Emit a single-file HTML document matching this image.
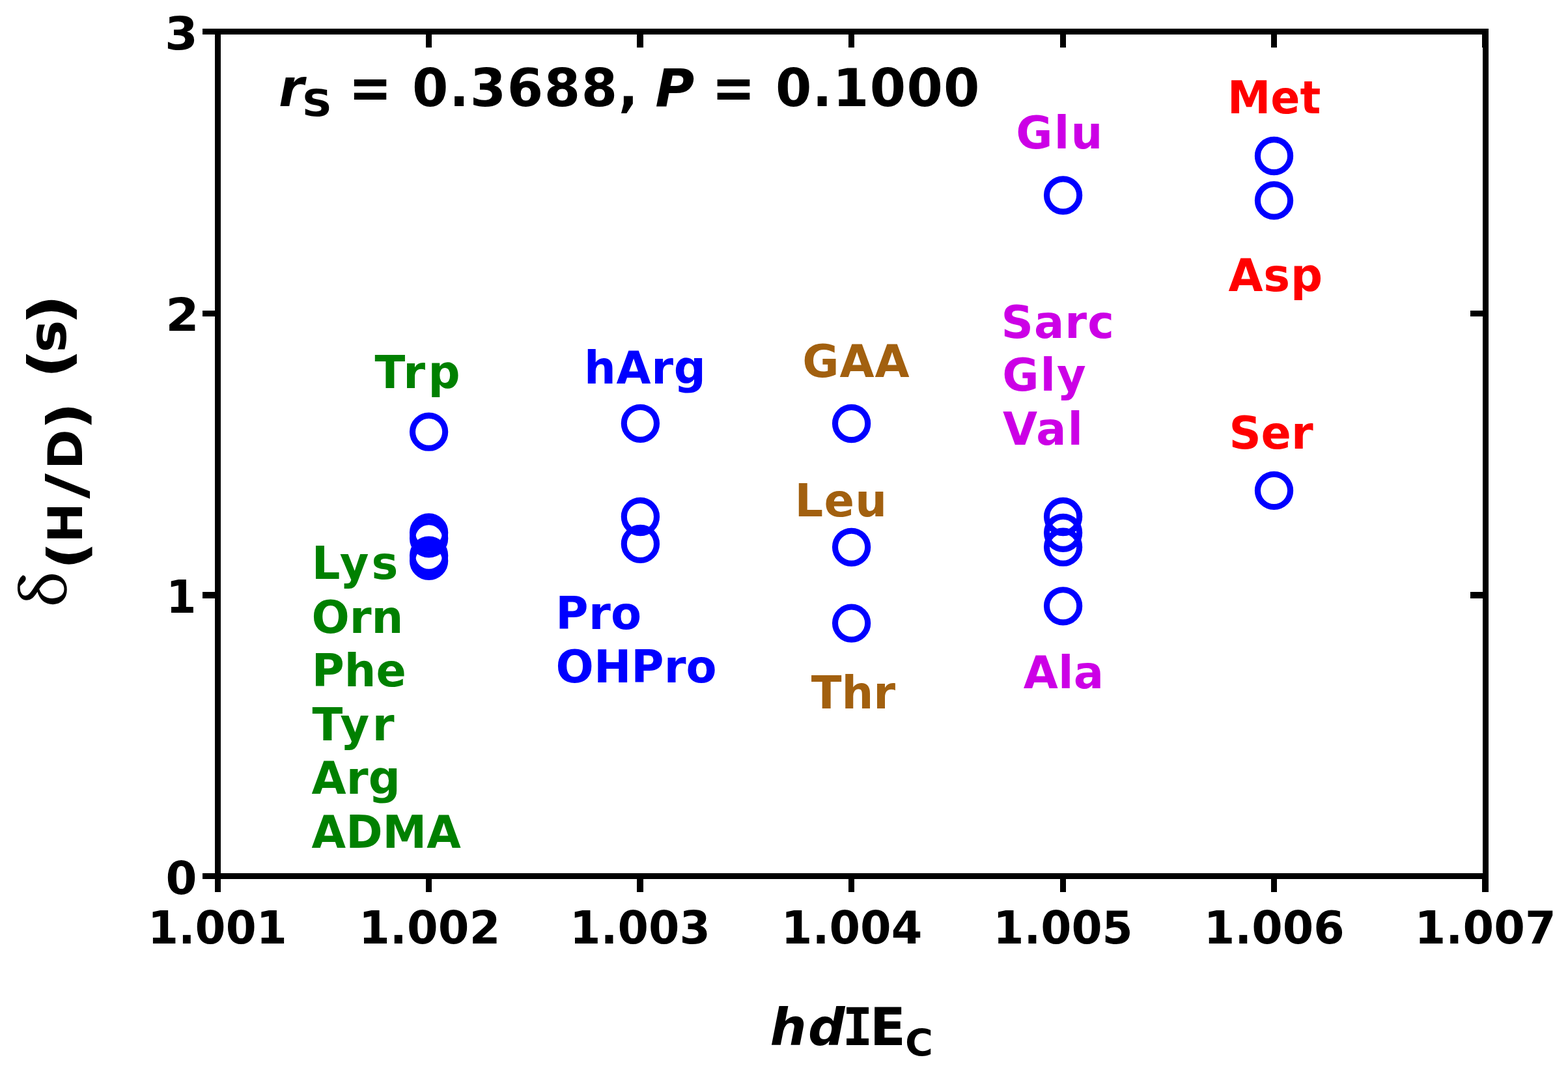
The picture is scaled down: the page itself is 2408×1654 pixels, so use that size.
<!DOCTYPE html>
<html lang="en">
<head>
<meta charset="utf-8">
<title>Scatter plot: δ(H/D) (s) versus hdIEC</title>
<style>
html,body{margin:0;padding:0;background:#fff;}
body{width:2408px;height:1654px;overflow:hidden;}
svg{display:block;}
text{font-family:"DejaVu Sans","Liberation Sans",sans-serif;}
text.sym{font-family:"Noto Serif CJK SC","Liberation Serif",serif;font-weight:normal;}
text.serb{font-family:"DejaVu Serif","Liberation Serif",serif;font-weight:bold;}
text.monob{font-family:"DejaVu Sans Mono","Liberation Mono",monospace;font-weight:bold;}
</style>
</head>
<body>
<svg width="2408" height="1654" viewBox="0 0 2408 1654">
<rect x="0" y="0" width="2408" height="1654" fill="#fff"/>
<g fill="#000" shape-rendering="crispEdges">
<rect x="311" y="44" width="1975" height="9"/>
<rect x="311" y="1341" width="1975" height="9"/>
<rect x="330" y="44" width="9" height="1326"/>
<rect x="2277" y="44" width="9" height="1326"/>
<rect x="654" y="1341" width="9" height="29"/>
<rect x="654" y="44" width="9" height="29"/>
<rect x="978" y="1341" width="10" height="29"/>
<rect x="978" y="44" width="10" height="29"/>
<rect x="1303" y="1341" width="9" height="29"/>
<rect x="1303" y="44" width="9" height="29"/>
<rect x="1628" y="1341" width="9" height="29"/>
<rect x="1628" y="44" width="9" height="29"/>
<rect x="1952" y="1341" width="9" height="29"/>
<rect x="1952" y="44" width="9" height="29"/>
<rect x="2276" y="1341" width="10" height="29"/>
<rect x="2276" y="44" width="10" height="29"/>
<rect x="311" y="909" width="28" height="10"/>
<rect x="2258" y="909" width="28" height="10"/>
<rect x="311" y="477" width="28" height="9"/>
<rect x="2258" y="477" width="28" height="9"/>
</g>
<g fill="none" stroke="#0000ff" stroke-width="9.1">
<circle cx="658.6" cy="663.2" r="25.1"/>
<circle cx="658.6" cy="818.0" r="25.1"/>
<circle cx="658.6" cy="826.8" r="25.1"/>
<circle cx="658.6" cy="853.2" r="25.1"/>
<circle cx="658.6" cy="861.3" r="25.1"/>
<circle cx="983.4" cy="650.3" r="25.1"/>
<circle cx="983.4" cy="793.5" r="25.1"/>
<circle cx="983.4" cy="835.4" r="25.1"/>
<circle cx="1307.6" cy="650.5" r="25.1"/>
<circle cx="1307.6" cy="840.3" r="25.1"/>
<circle cx="1307.6" cy="957.1" r="25.1"/>
<circle cx="1632.6" cy="300.0" r="25.1"/>
<circle cx="1632.6" cy="793.5" r="25.1"/>
<circle cx="1632.6" cy="818.3" r="25.1"/>
<circle cx="1632.6" cy="840.2" r="25.1"/>
<circle cx="1632.6" cy="930.8" r="25.1"/>
<circle cx="1956.5" cy="239.5" r="25.1"/>
<circle cx="1956.5" cy="307.9" r="25.1"/>
<circle cx="1956.5" cy="753.4" r="25.1"/>
</g>
<g>
<text transform="translate(226.94 1448.80) scale(0.9852 1.0000)" font-size="68.60" font-weight="bold" fill="#000">1.001</text>
<text transform="translate(550.93 1448.80) scale(1.0000 1.0000)" font-size="68.60" letter-spacing="0.13" font-weight="bold" fill="#000">1.002</text>
<text transform="translate(875.07 1448.80) scale(0.9949 1.0000)" font-size="68.60" font-weight="bold" fill="#000">1.003</text>
<text transform="translate(1199.84 1448.80) scale(0.9979 1.0000)" font-size="68.60" font-weight="bold" fill="#000">1.004</text>
<text transform="translate(1525.31 1448.80) scale(0.9886 1.0000)" font-size="68.60" font-weight="bold" fill="#000">1.005</text>
<text transform="translate(1848.76 1448.80) scale(0.9953 1.0000)" font-size="68.60" font-weight="bold" fill="#000">1.006</text>
<text transform="translate(2172.53 1448.80) scale(1.0000 1.0000)" font-size="68.60" letter-spacing="0.06" font-weight="bold" fill="#000">1.007</text>
<text transform="translate(254.47 1372.90) scale(1.0058 1.0000)" font-size="68.60" font-weight="bold" fill="#000">0</text>
<text transform="translate(255.37 940.57) scale(0.9683 1.0000)" font-size="68.60" font-weight="bold" fill="#000">1</text>
<text transform="translate(254.21 508.23) scale(1.0782 1.0000)" font-size="68.60" font-weight="bold" fill="#000">2</text>
<text transform="translate(252.92 75.90) scale(1.0681 1.0000)" font-size="68.60" font-weight="bold" fill="#000">3</text>
</g>
<g>
<text transform="translate(575.46 596.00) scale(1.0000 1.0000)" font-size="68.60" letter-spacing="4.45" font-weight="bold" fill="#008000">Trp</text>
<text transform="translate(478.81 889.10) scale(1.0000 1.0000)" font-size="68.60" letter-spacing="3.98" font-weight="bold" fill="#008000">Lys</text>
<text transform="translate(478.47 971.80) scale(0.9995 1.0000)" font-size="68.60" font-weight="bold" fill="#008000">Orn</text>
<text transform="translate(478.84 1053.70) scale(0.9952 1.0000)" font-size="68.60" font-weight="bold" fill="#008000">Phe</text>
<text transform="translate(479.46 1136.50) scale(1.0000 1.0000)" font-size="68.60" letter-spacing="4.44" font-weight="bold" fill="#008000">Tyr</text>
<text transform="translate(478.56 1218.90) scale(1.0000 1.0000)" font-size="68.60" letter-spacing="0.16" font-weight="bold" fill="#008000">Arg</text>
<text transform="translate(478.56 1301.80) scale(0.9908 1.0000)" font-size="68.60" font-weight="bold" fill="#008000">ADMA</text>
<text transform="translate(897.08 588.90) scale(1.0000 1.0000)" font-size="68.60" letter-spacing="0.66" font-weight="bold" fill="#0000ff">hArg</text>
<text transform="translate(853.31 965.80) scale(1.0000 1.0000)" font-size="68.60" letter-spacing="0.35" font-weight="bold" fill="#0000ff">Pro</text>
<text transform="translate(853.57 1048.40) scale(1.0000 1.0000)" font-size="68.60" letter-spacing="0.04" font-weight="bold" fill="#0000ff">OHPro</text>
<text transform="translate(1232.37 578.80) scale(1.0000 1.0000)" font-size="68.60" letter-spacing="0.85" font-weight="bold" fill="#a2600f">GAA</text>
<text transform="translate(1220.61 792.90) scale(1.0000 1.0000)" font-size="68.60" letter-spacing="1.24" font-weight="bold" fill="#a2600f">Leu</text>
<text transform="translate(1245.66 1087.80) scale(1.0000 1.0000)" font-size="68.60" letter-spacing="0.02" font-weight="bold" fill="#a2600f">Thr</text>
<text transform="translate(1560.27 228.40) scale(1.0000 1.0000)" font-size="68.60" letter-spacing="2.26" font-weight="bold" fill="#cc00e6">Glu</text>
<text transform="translate(1537.48 518.80) scale(1.0000 1.0000)" font-size="68.60" letter-spacing="1.08" font-weight="bold" fill="#cc00e6">Sarc</text>
<text transform="translate(1539.37 600.40) scale(1.0000 1.0000)" font-size="68.60" letter-spacing="1.89" font-weight="bold" fill="#cc00e6">Gly</text>
<text transform="translate(1539.96 682.80) scale(1.0000 1.0000)" font-size="68.60" letter-spacing="1.97" font-weight="bold" fill="#cc00e6">Val</text>
<text transform="translate(1571.66 1056.70) scale(1.0000 1.0000)" font-size="68.60" letter-spacing="0.30" font-weight="bold" fill="#cc00e6">Ala</text>
<text transform="translate(1885.10 174.10) scale(0.9705 1.0000)" font-size="68.60" font-weight="bold" fill="#ff0000">Met</text>
<text transform="translate(1886.46 447.00) scale(1.0000 1.0000)" font-size="68.60" letter-spacing="0.80" font-weight="bold" fill="#ff0000">Asp</text>
<text transform="translate(1887.40 689.30) scale(0.9958 1.0000)" font-size="68.60" font-weight="bold" fill="#ff0000">Ser</text>
</g>
<g>
<text transform="translate(428.00 163.10) scale(0.9912 1.0000)" font-size="79.60" font-weight="bold" font-style="italic" fill="#000">r</text>
<text transform="translate(463.80 179.35) scale(1.1259 0.9947)" font-size="57.00" font-weight="bold" fill="#000">S</text>
<text transform="translate(535.39 166.09) scale(0.9910 1.1344)" font-size="79.60" font-weight="bold" fill="#000">=</text>
<text transform="translate(632.95 163.10) scale(1.0000 1.0000)" font-size="79.60" letter-spacing="1.61" font-weight="bold" fill="#000">0.3688,</text>
<text transform="translate(1006.32 163.10) scale(1.0308 1.0000)" font-size="79.60" font-weight="bold" font-style="italic" fill="#000">P</text>
<text transform="translate(1093.33 166.09) scale(0.9970 1.1344)" font-size="79.60" font-weight="bold" fill="#000">=</text>
<text transform="translate(1190.95 163.10) scale(1.0000 1.0000)" font-size="79.60" letter-spacing="1.27" font-weight="bold" fill="#000">0.1000</text>
</g>
<g>
<text transform="translate(1182.60 1604.90) scale(1.0000 1.0000)" font-size="79.00" letter-spacing="2.04" font-weight="bold" font-style="italic" fill="#000">hd</text>
<text transform="translate(1293.59 1604.90) scale(0.9894 1.0045)" font-size="79.00" class="monob" fill="#000">I</text>
<text transform="translate(1335.69 1604.90) scale(1.0232 1.0045)" font-size="79.00" font-weight="bold" fill="#000">E</text>
<text transform="translate(1390.07 1622.34) scale(1.0272 1.0063)" font-size="57.00" font-weight="bold" fill="#000">C</text>
</g>
<g>
<text transform="rotate(-90) translate(-930.92 100.99) scale(0.9444 0.9073)" font-size="100.00" class="sym" fill="#000" stroke="#000" stroke-width="1.7" stroke-linejoin="round">δ</text>
<text transform="rotate(-90) translate(-874.83 130.67) scale(1.2675 1.0811)" font-size="74.00" font-weight="bold" fill="#000">(</text>
<text transform="rotate(-90) translate(-833.49 125.90) scale(0.9866 0.9982)" font-size="74.00" font-weight="bold" fill="#000">H</text>
<text transform="rotate(-90) translate(-766.10 130.36) scale(1.4439 1.1200)" font-size="74.00" font-weight="bold" fill="#000">/</text>
<text transform="rotate(-90) translate(-720.68 125.90) scale(0.9997 0.9982)" font-size="74.00" font-weight="bold" fill="#000">D</text>
<text transform="rotate(-90) translate(-660.36 130.41) scale(1.2602 1.0765)" font-size="74.00" font-weight="bold" fill="#000">)</text>
<text transform="rotate(-90) translate(-581.37 105.51) scale(1.2500 1.0815)" font-size="80.00" font-weight="bold" fill="#000">(</text>
<text transform="rotate(-90) translate(-541.55 101.09) scale(1.0520 1.0087)" font-size="80.00" font-weight="bold" fill="#000">s</text>
<text transform="rotate(-90) translate(-499.28 105.51) scale(1.2943 1.0815)" font-size="80.00" font-weight="bold" fill="#000">)</text>
</g>
</svg>
</body>
</html>
